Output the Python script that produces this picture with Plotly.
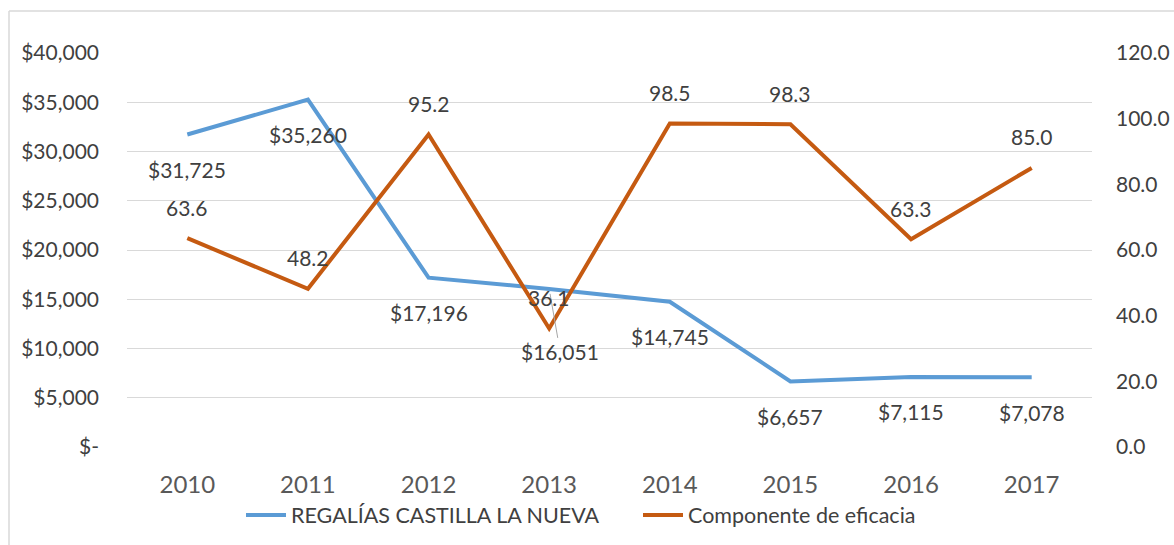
import plotly.graph_objects as go

years = ["2010", "2011", "2012", "2013", "2014", "2015", "2016", "2017"]
regalias = [31725, 35260, 17196, 16051, 14745, 6657, 7115, 7078]
eficacia = [63.6, 48.2, 95.2, 36.1, 98.5, 98.3, 63.3, 85.0]
left_ticks = [0, 5000, 10000, 15000, 20000, 25000, 30000, 35000, 40000]
left_labels = ["$-", "$5,000", "$10,000", "$15,000", "$20,000", "$25,000", "$30,000", "$35,000", "$40,000"]
right_ticks = [0, 20, 40, 60, 80, 100, 120]
right_labels = ["%.1f" % v for v in right_ticks]

BLUE = "#5B9BD5"
ORANGE = "#C55A11"
TXT = "#404040"
GRID = "#D9D9D9"
FONT = "Lato"

xpos = list(range(len(years)))
reg_text = ["${:,}".format(v) for v in regalias]
efi_text = ["%.1f" % v for v in eficacia]

fig = go.Figure()
fig.add_trace(go.Scatter(
    x=xpos, y=regalias, name="REGALÍAS CASTILLA LA NUEVA", mode="lines",
    line=dict(color=BLUE, width=4), yaxis="y"))
fig.add_trace(go.Scatter(
    x=xpos, y=eficacia, name="Componente de eficacia", mode="lines",
    line=dict(color=ORANGE, width=4), yaxis="y2"))

# data labels
for xp, yr, v, t in zip(xpos, years, regalias, reg_text):
    if yr == "2013":
        fig.add_annotation(x=xp, y=v, xref="x", yref="y", text=t,
                           showarrow=True, ax=11, ay=63, arrowhead=0, arrowwidth=1,
                           arrowcolor="#A6A6A6", standoff=5,
                           font=dict(family=FONT, size=21, color=TXT))
    else:
        fig.add_annotation(x=xp, y=v, xref="x", yref="y", text=t, showarrow=False,
                           yshift=-35, font=dict(family=FONT, size=21, color=TXT))
for xp, v, t in zip(xpos, eficacia, efi_text):
    fig.add_annotation(x=xp, y=v, xref="x", yref="y2", text=t, showarrow=False,
                       yshift=31, font=dict(family=FONT, size=21, color=TXT))

fig.update_layout(
    width=1174, height=545, paper_bgcolor="white", plot_bgcolor="white",
    margin=dict(l=127, r=82, t=53, b=98),
    font=dict(family=FONT, size=21, color=TXT),
    xaxis=dict(range=[-0.5, len(years) - 0.5], tickvals=xpos, ticktext=years,
               showgrid=False, showline=False, zeroline=False, ticks="", automargin=False,
               tickfont=dict(family=FONT, size=24, color="#595959"),
               ticklabelstandoff=21),
    yaxis=dict(range=[0, 40000], tickvals=left_ticks, ticktext=left_labels, showgrid=True,
               gridcolor=GRID, gridwidth=1, zeroline=False, showline=False, automargin=False,
               tickfont=dict(family=FONT, size=21, color=TXT), ticklabelstandoff=27),
    yaxis2=dict(range=[0, 120], tickvals=right_ticks, ticktext=right_labels, overlaying="y",
                side="right", showgrid=False, zeroline=False, showline=False, automargin=False,
                tickfont=dict(family=FONT, size=21, color=TXT), ticklabelstandoff=23),
    legend=dict(orientation="h", x=638 / 1174, xanchor="center", xref="container",
                y=1 - 515 / 545, yanchor="middle", yref="container",
                font=dict(family=FONT, size=21.5, color=TXT), itemwidth=40,
                entrywidth=342, entrywidthmode="pixels",
                traceorder="normal"),
    showlegend=True,
)

# chart-area border (left and top edges)
W, H = 1174 - 127 - 82, 545 - 53 - 98
fig.add_shape(type="line", xref="paper", yref="paper",
              x0=(9 - 127) / W, x1=(9 - 127) / W, y0=-0.3, y1=(447 - 11) / H,
              line=dict(color=GRID, width=1.5))
fig.add_shape(type="line", xref="paper", yref="paper",
              x0=(9 - 127) / W, x1=1.2, y0=(447 - 11) / H, y1=(447 - 11) / H,
              line=dict(color=GRID, width=1.5))

fig.write_html("out.html", config={"displayModeBar": False},
               post_script="document.body.style.margin='0';document.body.style.overflow='hidden';")
